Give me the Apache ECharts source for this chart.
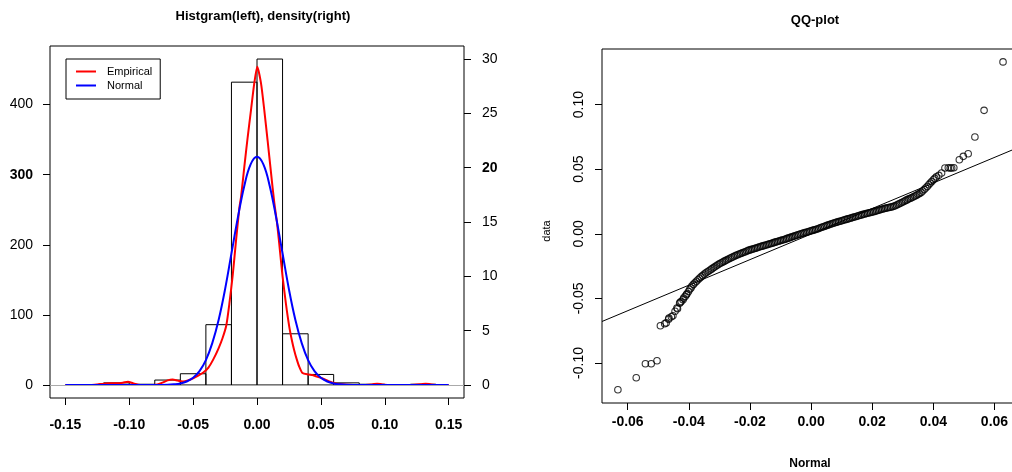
<!DOCTYPE html>
<html><head><meta charset="utf-8">
<script src="https://cdn.jsdelivr.net/npm/echarts@6/dist/echarts.min.js"></script>
<style>html,body{margin:0;padding:0;background:#fff}#c{width:1012px;height:472px}</style>
</head><body><div id="c"></div>
<script>
// ---- Histogram (left axis: counts) ----
const histLo = [-0.12,-0.10,-0.08,-0.06,-0.04,-0.02,0.00,0.02,0.04,0.06,0.08,0.10,0.12];
const histHi = [-0.10,-0.08,-0.06,-0.04,-0.02,0.00,0.02,0.04,0.06,0.08,0.10,0.12,0.14];
const histCounts = [3,1,7,16,86,432,465,73,15,3,1,0,1];

// ---- Empirical density (right axis) ----
const empX = [-0.150,-0.130,-0.125,-0.120,-0.115,-0.110,-0.105,-0.101,-0.097,-0.093,
  -0.085,-0.078,-0.074,-0.070,-0.066,-0.062,-0.058,-0.054,-0.050,-0.046,
  -0.042,-0.038,-0.034,-0.030,-0.027,-0.024,-0.0216,-0.019,-0.0164,-0.0138,
  -0.0125,-0.0099,-0.0073,-0.0047,-0.0021,0.0002,0.0031,0.0057,0.0083,0.0110,
  0.0135,0.0156,0.0174,0.0200,0.0226,0.0252,0.0275,0.0291,0.0310,0.0330,
  0.0356,0.0400,0.0434,0.0460,0.0513,0.0560,0.0600,0.0640,0.0700,0.0800,
  0.0900,0.0940,0.0980,0.1050,0.1200,0.1280,0.1320,0.1360,0.1420,0.1500];
const empY = [0,0,0.05,0.12,0.15,0.15,0.2,0.3,0.15,0.03,
  0,0.05,0.22,0.42,0.5,0.4,0.33,0.42,0.6,0.85,
  1.15,1.6,2.4,3.4,4.3,5.5,7.5,10.1,13.3,16.3,
  17.3,20.1,22.8,25.3,27.8,29.3,27.8,25.3,22.5,19.5,
  16.8,15.0,13.0,10.0,7.5,5.4,4.0,3.2,2.4,1.7,
  1.1,0.97,0.92,0.8,0.6,0.35,0.18,0.08,0.03,0,
  0.05,0.12,0.05,0,0,0.06,0.12,0.06,0,0];

// ---- Normal density (right axis) ----
const normX = [-0.150,-0.080,-0.070,-0.065,-0.060,-0.055,-0.050,-0.045,-0.040,-0.035,-0.030,-0.025,-0.020,-0.015,-0.010,-0.005,0,
  0.005,0.010,0.015,0.020,0.025,0.030,0.035,0.040,0.045,0.050,0.055,0.060,0.065,0.070,0.080,0.150];
const normY = [0,0,0.02,0.06,0.14,0.32,0.66,1.27,2.29,3.85,6.0,8.8,12.1,15.4,18.3,20.3,21.0,
  20.3,18.3,15.4,12.1,8.8,6.0,3.85,2.29,1.27,0.66,0.32,0.14,0.06,0.02,0,0];

// ---- Tick labels ----
const histXTicks = [-0.15,-0.10,-0.05,0,0.05,0.10,0.15];
const countTicks = [0,100,200,300,400];
const densityTicks = [0,5,10,15,20,25,30];
const qqXTicks = [-0.06,-0.04,-0.02,0,0.02,0.04,0.06];
const qqYTicks = [-0.10,-0.05,0,0.05,0.10];

// ---- QQ plot points (theoretical "Normal", sample "data") ----
const qqLowX = [-0.0632,-0.0572,-0.0542,-0.0523,-0.0504,-0.0493,-0.0479,-0.0474,-0.0466,-0.0465,-0.0457,-0.0452,-0.0445,
  -0.0439,-0.0437,-0.0430,-0.0428,-0.0425,-0.0419,-0.0417,-0.0412,-0.0408,-0.0406,-0.0401,-0.0397,-0.0393];
const qqLowY = [-0.1208,-0.1115,-0.1006,-0.1006,-0.0983,-0.0712,-0.0697,-0.0690,-0.0662,-0.0653,-0.0642,-0.0635,-0.0600,
  -0.0575,-0.0580,-0.0537,-0.0530,-0.0524,-0.0511,-0.0498,-0.0485,-0.0472,-0.0465,-0.0447,-0.0430,-0.0420];
const qqBandX = [-0.039,-0.038,-0.037,-0.036,-0.035,-0.034,-0.033,-0.032,-0.031,-0.030,
  -0.029,-0.028,-0.027,-0.026,-0.025,-0.024,-0.023,-0.022,-0.021,-0.020,
  -0.019,-0.018,-0.017,-0.016,-0.015,-0.014,-0.013,-0.012,-0.011,-0.010,
  -0.009,-0.008,-0.007,-0.006,-0.005,-0.004,-0.003,-0.002,-0.001,0.000,
  0.001,0.002,0.003,0.004,0.005,0.006,0.007,0.008,0.009,0.010,
  0.011,0.012,0.013,0.014,0.015,0.016,0.017,0.018,0.019,0.020,
  0.021,0.022,0.023,0.024,0.025,0.026,0.027,0.028,0.029,0.030,
  0.031,0.032,0.033,0.034,0.035,0.036,0.037,0.038,0.039,0.040,0.041];
const qqBandY = [-0.0404,-0.0380,-0.0356,-0.0334,-0.0313,-0.0296,-0.0280,-0.0264,-0.0248,-0.0233,
  -0.0220,-0.0208,-0.0196,-0.0184,-0.0172,-0.0162,-0.0153,-0.0144,-0.0134,-0.0125,
  -0.0118,-0.0111,-0.0103,-0.0096,-0.0089,-0.0082,-0.0075,-0.0067,-0.0060,-0.0053,
  -0.0046,-0.0038,-0.0030,-0.0022,-0.0014,-0.0006,0.0002,0.0009,0.0016,0.0023,
  0.0030,0.0037,0.0046,0.0054,0.0063,0.0071,0.0079,0.0087,0.0094,0.0101,
  0.0108,0.0115,0.0122,0.0129,0.0136,0.0143,0.0150,0.0156,0.0162,0.0168,
  0.0175,0.0182,0.0189,0.0196,0.0201,0.0206,0.0212,0.0222,0.0234,0.0246,
  0.0258,0.0270,0.0280,0.0292,0.0305,0.0320,0.0343,0.0366,0.0392,0.0418,0.0440];
const qqBand2X = [-0.0385,-0.0375,-0.0365,-0.0355,-0.0345,-0.0335,-0.0325,-0.0315,-0.0305,-0.0295,
  -0.0285,-0.0275,-0.0265,-0.0255,-0.0245,-0.0235,-0.0225,-0.0215,-0.0205,-0.0195,
  -0.0185,-0.0175,-0.0165,-0.0155,-0.0145,-0.0135,-0.0125,-0.0115,-0.0105,-0.0095,
  -0.0085,-0.0075,-0.0065,-0.0055,-0.0045,-0.0035,-0.0025,-0.0015,-0.0005,
  0.0005,0.0015,0.0025,0.0035,0.0045,0.0055,0.0065,0.0075,0.0085,0.0095,0.0105,
  0.0115,0.0125,0.0135,0.0145,0.0155,0.0165,0.0175,0.0185,0.0195,0.0205,
  0.0215,0.0225,0.0235,0.0245,0.0255,0.0265,0.0275,0.0285,0.0295,0.0305,
  0.0315,0.0325,0.0335,0.0345,0.0355,0.0365,0.0375,0.0385,0.0395,0.0405];
const qqBand2Y = [-0.0392,-0.0368,-0.0345,-0.0323,-0.0304,-0.0288,-0.0272,-0.0256,-0.0240,-0.0226,
  -0.0214,-0.0202,-0.0190,-0.0178,-0.0167,-0.0157,-0.0148,-0.0139,-0.0129,-0.0121,
  -0.0114,-0.0107,-0.0099,-0.0092,-0.0085,-0.0078,-0.0071,-0.0063,-0.0056,-0.0049,
  -0.0042,-0.0034,-0.0026,-0.0018,-0.0010,-0.0002,0.0005,0.0012,0.0019,
  0.0026,0.0033,0.0041,0.0050,0.0058,0.0067,0.0075,0.0083,0.0090,0.0097,0.0104,
  0.0111,0.0118,0.0125,0.0132,0.0139,0.0146,0.0153,0.0159,0.0165,0.0171,
  0.0178,0.0185,0.0192,0.0198,0.0203,0.0209,0.0217,0.0228,0.0240,0.0252,
  0.0264,0.0275,0.0286,0.0298,0.0312,0.0331,0.0354,0.0379,0.0405,0.0429];
const qqHighX = [0.0418,0.0427,0.0438,0.0449,0.0455,0.0460,0.0467,0.0485,0.0498,0.0514,0.0536,0.0566,0.0628];
const qqHighY = [0.0452,0.0470,0.0509,0.0511,0.0509,0.0509,0.0511,0.0573,0.0599,0.0619,0.0749,0.0955,0.1330];
const qqLineX = [-0.0684, 0.0677];
const qqLineY = [-0.0679, 0.0667];

// ---- chart ----
const FONT = '"Liberation Sans", Arial, Helvetica, sans-serif';
const pairs = (xs, ys) => xs.map((x, i) => [x, ys[i]]);
const qqPoints = pairs(qqLowX, qqLowY).concat(pairs(qqBandX, qqBandY), pairs(qqBand2X, qqBand2Y), pairs(qqHighX, qqHighY));
const fmt2 = v => Number(v).toFixed(2);
const tick = vals => ({show:true, length:7, customValues:vals, lineStyle:{color:'#000', width:1}});
const noLine = {show:false, onZero:false};

const chart = echarts.init(document.getElementById('c'), null, {renderer:'canvas'});
chart.setOption({
  animation:false,
  backgroundColor:'#fff',
  textStyle:{fontFamily:FONT},
  title:[
    {text:'Histgram(left), density(right)', left:258, top:5, textAlign:'center',
     textStyle:{fontSize:13, fontWeight:'bold', color:'#000', fontFamily:FONT}},
    {text:'QQ-plot', left:810, top:9, textAlign:'center',
     textStyle:{fontSize:13, fontWeight:'bold', color:'#000', fontFamily:FONT}}
  ],
  legend:{
    left:66, top:59, orient:'vertical', selectedMode:false,
    borderColor:'#000', borderWidth:1, padding:[7,8,8,10], itemGap:3,
    itemWidth:20, itemHeight:2, icon:'rect',
    data:['Empirical','Normal'],
    textStyle:{fontSize:11, color:'#000', fontFamily:FONT, padding:[0,0,0,6]}
  },
  grid:[
    {left:50, top:46, width:414, height:352, show:true, borderColor:'#000', borderWidth:1,
     backgroundColor:'transparent', containLabel:false, outerBoundsMode:'none'},
    {left:602, top:49, width:416, height:354, show:true, borderColor:'#000', borderWidth:1,
     backgroundColor:'transparent', containLabel:false, outerBoundsMode:'none'}
  ],
  xAxis:[
    {gridIndex:0, type:'value', min:-0.162, max:0.162,
     axisLine:noLine, splitLine:{show:false}, axisTick:tick(histXTicks),
     axisLabel:{customValues:histXTicks, formatter:fmt2, fontSize:14, fontWeight:'bold', color:'#000', margin:20, fontFamily:FONT}},
    {gridIndex:1, type:'value', min:-0.0684, max:0.0677,
     name:'Normal', nameLocation:'middle', nameGap:55,
     nameTextStyle:{fontSize:12, fontWeight:'bold', color:'#000', fontFamily:FONT},
     axisLine:noLine, splitLine:{show:false}, axisTick:tick(qqXTicks),
     axisLabel:{customValues:qqXTicks, formatter:fmt2, fontSize:14, fontWeight:'bold', color:'#000', margin:12, fontFamily:FONT}}
  ],
  yAxis:[
    {gridIndex:0, type:'value', position:'left', min:-18.6, max:483.6,
     axisLine:noLine, splitLine:{show:false}, axisTick:tick(countTicks),
     axisLabel:{customValues:countTicks, fontSize:14, color:'#000', margin:17, fontFamily:FONT,
       formatter:v => v === 300 ? '{b|300}' : String(v),
       rich:{b:{fontSize:14, fontWeight:'bold', color:'#000', fontFamily:FONT}}}},
    {gridIndex:0, type:'value', position:'right', min:-1.2, max:31.2,
     axisLine:noLine, splitLine:{show:false}, axisTick:tick(densityTicks),
     axisLabel:{customValues:densityTicks, fontSize:14, color:'#000', margin:18, fontFamily:FONT,
       formatter:v => v === 20 ? '{b|20}' : String(v),
       rich:{b:{fontSize:14, fontWeight:'bold', color:'#000', fontFamily:FONT}}}},
    {gridIndex:1, type:'value', min:-0.131, max:0.143,
     name:'data', nameLocation:'middle', nameGap:50,
     nameTextStyle:{fontSize:11, color:'#000', fontFamily:FONT, padding:[0,10,0,0]},
     axisLine:noLine, splitLine:{show:false}, axisTick:tick(qqYTicks),
     axisLabel:{customValues:qqYTicks, formatter:fmt2, rotate:90, fontSize:14, color:'#000', margin:16, fontFamily:FONT}}
  ],
  series:[
    {type:'custom', name:'hist', xAxisIndex:0, yAxisIndex:0, clip:true,
     data: histLo.map((lo, i) => [lo, histHi[i], histCounts[i]]),
     encode:{x:[0,1], y:2},
     renderItem:(params, api) => {
       const p0 = api.coord([api.value(0), api.value(2)]);
       const p1 = api.coord([api.value(1), 0]);
       return {type:'rect', shape:{x:p0[0], y:p0[1], width:p1[0]-p0[0], height:p1[1]-p0[1]},
               style:{fill:'none', stroke:'#000', lineWidth:1}};
     },
     markLine:{silent:true, symbol:['none','none'], label:{show:false},
       lineStyle:{color:'#aaaaaa', type:'solid', width:1}, data:[{yAxis:0}]}
    },
    {type:'line', name:'Empirical', xAxisIndex:0, yAxisIndex:1, data:pairs(empX, empY),
     showSymbol:false, smooth:0.2, lineStyle:{color:'#ff0000', width:2}, itemStyle:{color:'#ff0000'}, z:3},
    {type:'line', name:'Normal', xAxisIndex:0, yAxisIndex:1, data:pairs(normX, normY),
     showSymbol:false, smooth:0.4, lineStyle:{color:'#0000ff', width:2}, itemStyle:{color:'#0000ff'}, z:4},
    {type:'scatter', name:'qq', xAxisIndex:1, yAxisIndex:2, data:qqPoints,
     symbol:'circle', symbolSize:6.5, itemStyle:{color:'rgba(0,0,0,0)', borderColor:'#000', borderWidth:1.1}},
    {type:'line', name:'qqline', xAxisIndex:1, yAxisIndex:2, data:pairs(qqLineX, qqLineY),
     showSymbol:false, lineStyle:{color:'#000', width:1}}
  ]
});
</script></body></html>
